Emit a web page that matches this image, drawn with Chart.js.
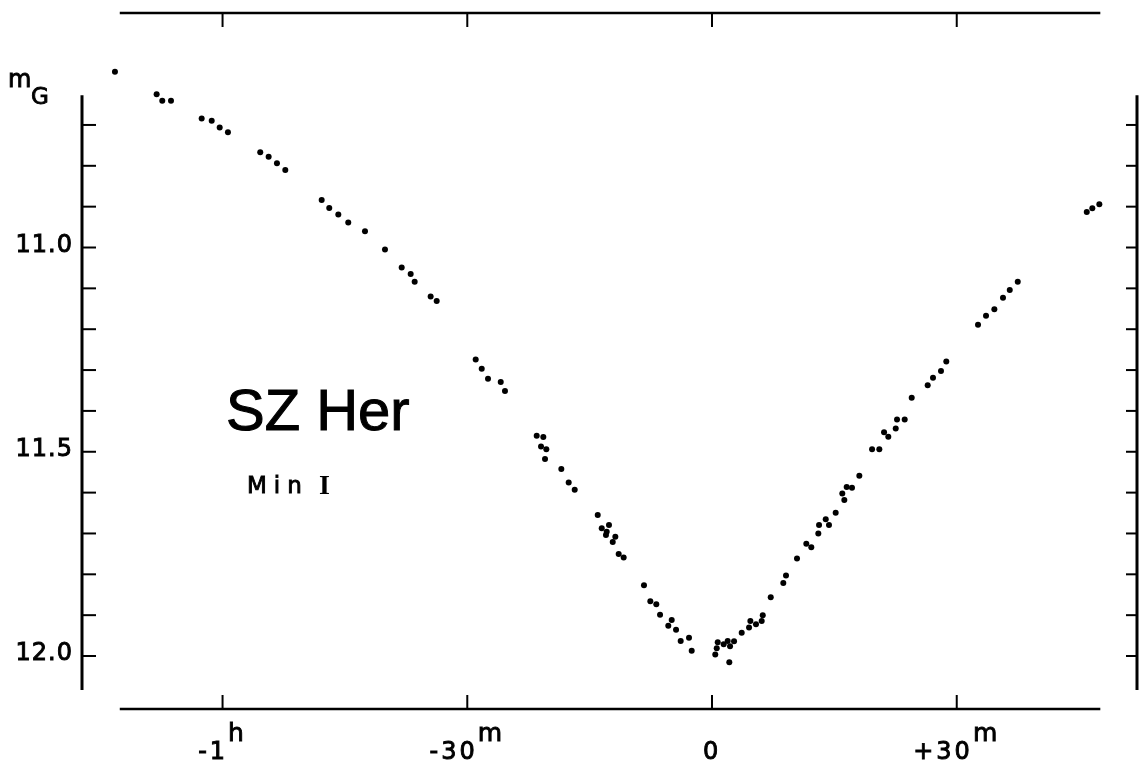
<!DOCTYPE html>
<html>
<head>
<meta charset="utf-8">
<title>SZ Her - Min I</title>
<script src="https://cdn.jsdelivr.net/npm/chart.js@4/dist/chart.umd.min.js"></script>
<style>
  html, body { margin: 0; padding: 0; background: #fff; }
  canvas { display: block; }
</style>
</head>
<body>
<canvas id="chart" width="1144" height="765"></canvas>
<script>
// time from minimum in minutes, and m_G magnitude for each observation
const timeMin = [
  -73.19, -68.08, -67.39, -66.32, -62.56, -61.33, -60.35, -59.34,
  -55.38, -54.35, -53.33, -52.31, -47.85, -46.92, -45.81, -44.59,
  -42.54, -40.09, -38.04, -36.94, -36.45, -34.49, -33.75,
  -28.97, -28.23, -27.46, -25.90, -25.38,
  -21.49, -20.68, -20.96, -20.31, -20.47, -18.47, -17.57, -16.83,
  -14.01, -13.52, -12.63, -12.91, -13.00, -11.85, -12.17, -11.44, -10.83,
  -8.34, -7.56, -6.83, -6.37, -4.94, -5.36, -4.41, -3.84, -2.82, -2.49,
  0.40, 0.58, 0.70, 1.43, 1.92, 2.21, 2.70, 2.12, 3.64, 4.54, 4.70, 5.39,
  6.09, 6.22, 7.20, 8.74, 9.07, 10.42, 11.56, 12.17, 13.03, 13.12, 13.94,
  14.34, 15.16, 16.22, 15.97, 16.51, 17.16, 18.06, 19.62, 20.51, 21.09,
  21.61, 22.52, 22.68, 23.62, 24.48, 26.44, 27.09, 28.07, 28.72,
  32.61, 33.59, 34.61, 35.67, 36.50, 37.48,
  45.94, 46.62, 47.48
];
const magG = [
  10.570, 10.625, 10.641, 10.641, 10.684, 10.690, 10.706, 10.718,
  10.767, 10.778, 10.794, 10.810, 10.884, 10.903, 10.919, 10.939,
  10.960, 11.005, 11.049, 11.065, 11.084, 11.120, 11.131,
  11.274, 11.297, 11.321, 11.329, 11.351,
  11.461, 11.464, 11.487, 11.494, 11.518, 11.542, 11.575, 11.593,
  11.655, 11.687, 11.679, 11.696, 11.704, 11.708, 11.721, 11.750, 11.759,
  11.827, 11.866, 11.873, 11.899, 11.912, 11.926, 11.936, 11.963, 11.955, 11.987,
  11.996, 11.981, 11.966, 11.971, 11.963, 11.976, 11.964, 12.015, 11.943, 11.930, 11.914, 11.922,
  11.914, 11.900, 11.856, 11.821, 11.803, 11.761, 11.725, 11.734, 11.700, 11.679, 11.665,
  11.679, 11.649, 11.618, 11.602, 11.586, 11.588, 11.559, 11.494, 11.494, 11.452,
  11.463, 11.443, 11.421, 11.421, 11.368, 11.337, 11.319, 11.302, 11.279,
  11.189, 11.167, 11.151, 11.123, 11.104, 11.084,
  10.913, 10.904, 10.894
];

// axis ticks and labels
const xTicks = [-60, -30, 0, 30];
const xTickText = ['-1', '-30', '0', '+30'];
const xTickUnit = ['h', 'm', '', 'm'];
const yTicks = [10.7, 10.8, 10.9, 11.0, 11.1, 11.2, 11.3, 11.4, 11.5, 11.6, 11.7, 11.8, 11.9, 12.0];
const yLabelValues = [11.0, 11.5, 12.0];
const yLabelText = ['11.0', '11.5', '12.0'];

// extent of the drawn axis lines, in data units
const xAxisFrom = -72.6, xAxisTo = 47.6;
const yAxisFrom = 10.627, yAxisTo = 12.083;

const points = timeMin.map((t, i) => ({ x: t, y: magG[i] }));

function line(ctx, x0, y0, x1, y1) {
    ctx.beginPath();
    ctx.moveTo(x0, y0);
    ctx.lineTo(x1, y1);
    ctx.stroke();
}

// fill plus a thin outline, to get the medium weight of the printed lettering
function text(ctx, s, x, y) {
    ctx.fillText(s, x, y);
    ctx.strokeText(s, x, y);
}

const axesPlugin = {
    id: 'plateAxes',
    afterDraw(chart) {
        const ctx = chart.ctx;
        const xs = chart.scales.x;
        const ys = chart.scales.y;
        const area = chart.chartArea;
        ctx.save();
        ctx.strokeStyle = '#000';
        ctx.fillStyle = '#000';

        // top and bottom time axes
        const xa = xs.getPixelForValue(xAxisFrom);
        const xb = xs.getPixelForValue(xAxisTo);
        ctx.lineWidth = 2.5;
        line(ctx, xa, area.bottom, xb, area.bottom);
        line(ctx, xa, area.top + 1, xb, area.top + 1);
        ctx.lineWidth = 2;
        xTicks.forEach(v => {
            const p = xs.getPixelForValue(v);
            line(ctx, p, area.bottom, p, area.bottom - 14);
            line(ctx, p, area.top + 1, p, area.top + 15);
        });

        // left and right magnitude axes
        const ya = ys.getPixelForValue(yAxisFrom);
        const yb = ys.getPixelForValue(yAxisTo);
        ctx.lineWidth = 3;
        line(ctx, area.left, ya, area.left, yb);
        line(ctx, area.right - 1, ya, area.right - 1, yb);
        ctx.lineWidth = 2;
        yTicks.forEach(v => {
            const p = ys.getPixelForValue(v);
            line(ctx, area.left, p, area.left + 14, p);
            line(ctx, area.right - 1, p, area.right - 12, p);
        });

        // magnitude labels
        ctx.lineWidth = 0.9;
        ctx.font = '24px "DejaVu Sans"';
        ctx.textAlign = 'right';
        ctx.textBaseline = 'alphabetic';
        ctx.letterSpacing = '1px';
        yLabelValues.forEach((v, i) => {
            text(ctx, yLabelText[i], area.left - 9, ys.getPixelForValue(v) + 4);
        });

        // time labels with superscript units
        ctx.textAlign = 'left';
        ctx.letterSpacing = '3px';
        xTicks.forEach((v, i) => {
            const p = xs.getPixelForValue(v);
            ctx.font = '24px "DejaVu Sans"';
            const wBase = ctx.measureText(xTickText[i]).width;
            ctx.font = '25px "DejaVu Sans"';
            const wUnit = xTickUnit[i] ? ctx.measureText(xTickUnit[i]).width : 0;
            const left = p - (wBase + wUnit) / 2;
            ctx.font = '24px "DejaVu Sans"';
            text(ctx, xTickText[i], left, area.bottom + 50);
            ctx.font = '25px "DejaVu Sans"';
            if (xTickUnit[i]) text(ctx, xTickUnit[i], left + wBase, area.bottom + 32);
        });

        // m_G axis title
        ctx.letterSpacing = '0px';
        ctx.font = '24px "DejaVu Sans"';
        text(ctx, 'm', 8, 87);
        ctx.font = '23px "DejaVu Sans"';
        text(ctx, 'G', 31, 104);

        // star name and event
        ctx.lineWidth = 1;
        ctx.font = '58px "Liberation Sans"';
        text(ctx, 'SZ Her', 226, 430);
        ctx.lineWidth = 0.9;
        ctx.font = '23px "DejaVu Sans"';
        ctx.letterSpacing = '7px';
        text(ctx, 'Min', 247, 493);
        ctx.letterSpacing = '0px';
        ctx.font = 'bold 28px "Liberation Serif"';
        ctx.fillText('I', 319, 494);
        ctx.restore();
    }
};

new Chart(document.getElementById('chart'), {
    type: 'scatter',
    data: {
        datasets: [{
            label: 'SZ Her',
            data: points,
            backgroundColor: '#000',
            borderColor: '#000',
            pointRadius: 3,
            pointBorderWidth: 0,
            clip: false
        }]
    },
    options: {
        responsive: false,
        animation: false,
        events: [],
        layout: { padding: { left: 82, right: 6, top: 12, bottom: 56 } },
        plugins: {
            legend: { display: false },
            tooltip: { enabled: false },
            title: { display: false }
        },
        scales: {
            x: { type: 'linear', min: -77.23, max: 52.22, display: false },
            y: { type: 'linear', min: 10.4235, max: 12.1297, reverse: true, display: false }
        }
    },
    plugins: [axesPlugin]
});
</script>
</body>
</html>
